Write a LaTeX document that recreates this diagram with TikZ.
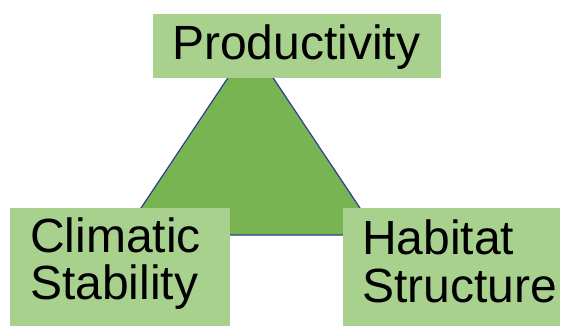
\documentclass[tikz,border=0pt]{standalone}
\usepackage{fontspec}
\setmainfont{Liberation Sans}
\definecolor{boxgreen}{HTML}{A9D18E}
\definecolor{trigreen}{HTML}{78B451}
\definecolor{edgeblue}{HTML}{2F3F8F}
\begin{document}
\begin{tikzpicture}[x=1pt,y=-1pt,
  box/.style={fill=boxgreen, draw=none, anchor=north west, inner sep=0pt},
  lbl/.style={anchor=base west, inner sep=0pt, font=\fontsize{48}{49}\selectfont}]
\useasboundingbox (0,0) rectangle (565,326);
% central triangle
\coordinate (apex) at (250.5,44);
\coordinate (bl) at (123,235);
\coordinate (br) at (378,235);
\draw[fill=trigreen, draw=edgeblue, line width=1.2pt, line join=round] (apex) -- (br) -- (bl) -- cycle;
% labelled boxes
\node[box, minimum width=288pt, minimum height=64pt] (prodbox) at (153,14) {};
\node[box, minimum width=220pt, minimum height=118pt] (climbox) at (10,208) {};
\node[box, minimum width=217pt, minimum height=118pt] (habbox) at (343,208) {};
\node[lbl] (prod) at (172,60) {Productivity};
\node[lbl] (clim1) at (30,252) {Climatic};
\node[lbl] (clim2) at (30,299) {Stability};
\node[lbl] (hab1) at (362,254) {Habitat};
\node[lbl] (hab2) at (362,302) {Structure};
\end{tikzpicture}
\end{document}
